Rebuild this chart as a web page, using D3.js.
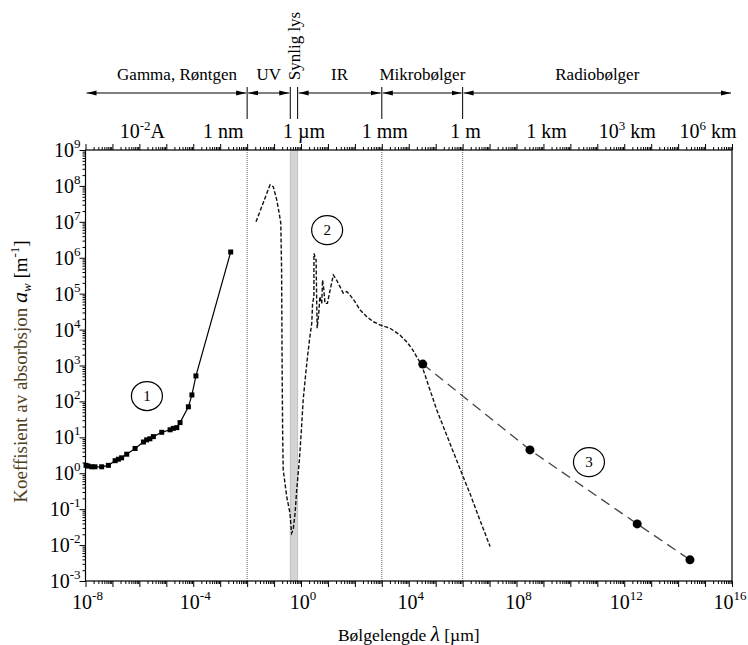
<!DOCTYPE html>
<html><head><meta charset="utf-8">
<script src="https://cdn.jsdelivr.net/npm/d3@7"></script>
<style>body{margin:0;background:#fff}svg{display:block;font-family:"Liberation Serif","Times New Roman",serif}</style>
</head><body><svg id="c" width="748" height="645"></svg>
<script>
// ---- data (log10 of wavelength in µm, log10 of absorption in m^-1) ----
const s1LogWl = [-7.98,-7.90,-7.77,-7.65,-7.40,-7.15,-6.90,-6.78,-6.66,-6.47,-6.16,-5.85,-5.73,-5.61,-5.48,-5.17,-4.86,-4.74,-4.61,-4.49,-4.18,-4.05,-3.90,-2.61];
const s1LogA  = [0.22,0.20,0.18,0.18,0.18,0.22,0.35,0.39,0.43,0.53,0.69,0.87,0.93,0.96,1.02,1.14,1.21,1.25,1.27,1.41,1.85,2.18,2.71,6.16];
const s2LogWl = [-1.67,-1.15,-1.03,-0.90,-0.81,-0.75,-0.72,-0.70,-0.68,-0.66,-0.53,-0.41,-0.35,-0.29,-0.22,-0.16,-0.06,0.03,0.08,0.19,0.27,0.33,0.40,0.43,0.48,0.48,0.56,0.58,0.60,0.66,0.70,0.77,0.80,0.85,0.89,0.98,1.08,1.20,1.32,1.45,1.57,1.70,1.82,2.00,2.19,2.44,2.68,2.93,3.30,3.67,3.92,4.11,4.29,4.48,5.04,5.53,6.02,6.27,6.64,7.02];
const s2LogA  = [7.00,8.03,7.98,7.61,7.24,6.96,5.66,2.88,1.02,0.09,-0.65,-1.11,-1.67,-1.58,-1.11,-0.47,0.37,1.39,2.04,2.88,3.43,3.80,4.18,4.73,4.92,6.12,5.94,4.92,4.04,4.45,4.92,4.73,5.38,5.10,4.73,4.73,5.10,5.52,5.38,5.19,5.01,5.06,4.96,4.78,4.55,4.36,4.22,4.13,4.04,3.85,3.66,3.48,3.25,3.01,1.76,0.83,-0.10,-0.56,-1.30,-2.04];
const s3LogWl = [4.52,8.50,12.48,14.44];
const s3LogA  = [3.04,0.65,-1.41,-2.41];
const xTickExp = [-8,-4,0,4,8,12,16];
const yTickExp = [-3,-2,-1,0,1,2,3,4,5,6,7,8,9];
const topTickExp = [-6,-3,0,3,6,9,12,15];
const topTickLabel = [["10","-2","A"],["1 nm"],["1 µm"],["1 mm"],["1 m"],["1 km"],["10","3"," km"],["10","6"," km"]];
const regionNames = ["Gamma, Røntgen","UV","Synlig lys","IR","Mikrobølger","Radiobølger"];
const regionFrom  = [1e-8,1e-2,0.4,0.75,1e3,1e6];
const regionTo    = [1e-2,0.4,0.75,1e3,1e6,1e16];
const regionLabelAt = [2.5e-5,0.063,0.55,27,3.2e4,1e11];
const boundaryLines = [1e-2,1e3,1e6];
const visibleBand = [0.4,0.75];
const circleLabels = ["1","2","3"];
const circleLogWl = [-5.72,0.97,10.69];
const circleLogA  = [2.15,6.77,0.31];

const svg = d3.select("#c");
const L=85.5,R=732,T=150,B=581;
const x = d3.scaleLog().domain([1e-8,1e16]).range([L,R]);
const y = d3.scaleLog().domain([1e-3,1e9]).range([B,T]);
const p = v => Math.pow(10,v);

// defs: arrow markers
const defs = svg.append("defs");
defs.append("marker").attr("id","ae").attr("viewBox","0 0 10 6").attr("refX",10).attr("refY",3)
  .attr("markerWidth",10).attr("markerHeight",6).attr("markerUnits","userSpaceOnUse").attr("orient","auto")
  .append("path").attr("d","M0,0.6L10,3L0,5.4Z").attr("fill","#000");
defs.append("marker").attr("id","as").attr("viewBox","0 0 10 6").attr("refX",0).attr("refY",3)
  .attr("markerWidth",10).attr("markerHeight",6).attr("markerUnits","userSpaceOnUse").attr("orient","auto")
  .append("path").attr("d","M10,0.6L0,3L10,5.4Z").attr("fill","#000");

// visible band & boundary lines
svg.append("rect").attr("x",x(visibleBand[0])).attr("y",T).attr("width",x(visibleBand[1])-x(visibleBand[0])).attr("height",B-T)
  .attr("fill","#d4d4d4").attr("stroke","#888").attr("stroke-width",0.8).attr("stroke-dasharray","1,1");
svg.selectAll(".bl").data(boundaryLines).enter().append("line")
  .attr("x1",d=>x(d)).attr("x2",d=>x(d)).attr("y1",T).attr("y2",B)
  .attr("stroke","#666").attr("stroke-width",1).attr("stroke-dasharray","1,1");

// region band on top
const arrowY = 93;
regionNames.forEach((n,i)=>{
  if(i===2) return;
  svg.append("line").attr("x1",x(regionFrom[i])+1).attr("x2",x(regionTo[i])-1).attr("y1",arrowY).attr("y2",arrowY)
    .attr("stroke","#000").attr("stroke-width",1).attr("marker-start","url(#as)").attr("marker-end","url(#ae)");
  svg.append("text").attr("x",x(regionLabelAt[i])).attr("y",80).attr("text-anchor","middle").attr("font-size",17).text(n);
});
svg.append("text").attr("transform",`translate(${x(regionLabelAt[2])+6},46) rotate(-90)`).attr("text-anchor","middle")
  .attr("font-size",17).text(regionNames[2]);
const seps = [1e-2,0.4,0.75,1e3,1e6];
svg.selectAll(".sep").data(seps).enter().append("line")
  .attr("x1",d=>x(d)).attr("x2",d=>x(d)).attr("y1",87).attr("y2",119).attr("stroke","#000").attr("stroke-width",1);

// ticks helpers
function minorVals(e0,e1){const a=[];for(let e=e0;e<e1;e++)for(let k=2;k<=9;k++)a.push(k*p(e));return a;}
function decVals(e0,e1){const a=[];for(let e=e0;e<=e1;e++)a.push(p(e));return a;}
const ax = svg.append("g");
function drawAxis(gen, tr, vals, size){
  const g = ax.append("g").attr("transform",tr).call(gen.tickValues(vals).tickSize(size).tickFormat(""));
  g.select(".domain").remove();
  g.selectAll("line").attr("stroke","#000").attr("stroke-width",1);
}
drawAxis(d3.axisBottom(x), `translate(0,${B})`, minorVals(-8,16), 3);
drawAxis(d3.axisBottom(x), `translate(0,${B})`, decVals(-8,16), 6);
drawAxis(d3.axisTop(x), `translate(0,${T})`, minorVals(-8,16), 3);
drawAxis(d3.axisTop(x), `translate(0,${T})`, decVals(-8,16), 6);
drawAxis(d3.axisLeft(y), `translate(${L},0)`, minorVals(-3,9), 3);
drawAxis(d3.axisLeft(y), `translate(${L},0)`, decVals(-3,9), 6);
svg.append("rect").attr("x",L).attr("y",T).attr("width",R-L).attr("height",B-T).attr("fill","none").attr("stroke","#000").attr("stroke-width",1.2);

// tick labels
xTickExp.forEach(e=>{
  const t = svg.append("text").attr("x",x(p(e))+2).attr("y",B+28).attr("text-anchor","middle").attr("font-size",20);
  t.append("tspan").text("10");
  t.append("tspan").attr("dy",-9).attr("font-size",13).text(e<0?"-"+(-e):String(e));
  const bb = t.node().getBBox();
  if (bb.x + bb.width > 747) t.attr("x", +t.attr("x") - (bb.x + bb.width - 747));
});
yTickExp.forEach(e=>{
  const t = svg.append("text").attr("x",L-5).attr("y",y(p(e))+7).attr("text-anchor","end").attr("font-size",20);
  t.append("tspan").text("10");
  t.append("tspan").attr("dy",-9).attr("font-size",13).text(e<0?"-"+(-e):String(e));
});
topTickExp.forEach((e,i)=>{
  const lab = topTickLabel[i];
  const t = svg.append("text").attr("x",x(p(e))+3).attr("y",T-12).attr("text-anchor","middle").attr("font-size",20);
  if(lab.length===1){ t.text(lab[0]); }
  else { t.append("tspan").text(lab[0]); t.append("tspan").attr("dy",-8).attr("font-size",13).text(lab[1]);
         t.append("tspan").attr("dy",8).text(lab[2]); }
});

// axis titles
const xt = svg.append("text").attr("x",(L+R)/2).attr("y",641).attr("text-anchor","middle").attr("font-size",17.5);
xt.append("tspan").text("Bølgelengde ");
xt.append("tspan").attr("font-style","italic").attr("font-size",21).text("λ");
xt.append("tspan").text(" [µm]");
const yt = svg.append("text").attr("transform",`translate(27,${(T+B)/2+6}) rotate(-90)`).attr("text-anchor","middle").attr("font-size",19);
yt.append("tspan").attr("fill","#4f3f1d").text("Koeffisient av absorbsjon ");
yt.append("tspan").attr("font-style","italic").attr("font-size",22).text("a");
yt.append("tspan").attr("font-style","italic").attr("font-size",13).attr("dy",4).text("w");
yt.append("tspan").attr("dy",-4).text(" [m");
yt.append("tspan").attr("dy",-8).attr("font-size",13).text("-1");
yt.append("tspan").attr("dy",8).text("]");

// series
const line = d3.line().x(d=>x(p(d[0]))).y(d=>y(p(d[1])));
const s1 = s1LogWl.map((v,i)=>[v,s1LogA[i]]);
const s2 = s2LogWl.map((v,i)=>[v,s2LogA[i]]);
const s3 = s3LogWl.map((v,i)=>[v,s3LogA[i]]);
svg.append("path").datum(s1).attr("d",line).attr("fill","none").attr("stroke","#000").attr("stroke-width",1.2);
svg.selectAll(".sq").data(s1).enter().append("rect")
  .attr("x",d=>x(p(d[0]))-2.5).attr("y",d=>y(p(d[1]))-2.5).attr("width",5).attr("height",5).attr("fill","#000");
svg.append("path").datum(s2).attr("d",line).attr("fill","none").attr("stroke","#111").attr("stroke-width",1.4).attr("stroke-dasharray","4,2");
svg.append("path").datum(s3).attr("d",line).attr("fill","none").attr("stroke","#444").attr("stroke-width",1.3).attr("stroke-dasharray","10,6");
svg.selectAll(".dot").data(s3).enter().append("circle")
  .attr("cx",d=>x(p(d[0]))).attr("cy",d=>y(p(d[1]))).attr("r",4.5).attr("fill","#000");

// circled labels
circleLabels.forEach((c,i)=>{
  const cx=x(p(circleLogWl[i])), cy=y(p(circleLogA[i]));
  svg.append("ellipse").attr("cx",cx).attr("cy",cy).attr("rx",15.5).attr("ry",14.5).attr("fill","none").attr("stroke","#000").attr("stroke-width",1.2);
  svg.append("text").attr("x",cx).attr("y",cy+5).attr("text-anchor","middle").attr("font-size",15).text(c);
});
</script></body></html>
